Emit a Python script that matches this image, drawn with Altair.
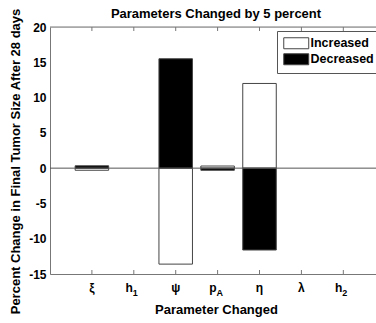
import altair as alt
import pandas as pd

# ---- data ----
params_main = ["ξ", "h", "ψ", "p", "η", "λ", "h"]
params_sub = ["", "1", "", "A", "", "", "2"]
positions = [1, 2, 3, 4, 5, 6, 7]
increased = [-0.30, 0.0, -13.6, 0.30, 12.0, 0.0, 0.0]
decreased = [0.33, 0.0, 15.5, -0.30, -11.6, 0.0, 0.0]
series = ["Increased", "Decreased"]
y_ticks = [-15, -10, -5, 0, 5, 10, 15, 20]
title_text = "Parameters Changed by 5 percent"

rows = []
for m, s, pos, inc, dec in zip(params_main, params_sub, positions, increased, decreased):
    rows.append(dict(param=m + s, pos=pos, series="Increased", value=inc))
    rows.append(dict(param=m + s, pos=pos, series="Decreased", value=dec))
bars_df = pd.DataFrame(rows)
labels_df = pd.DataFrame(dict(main=params_main, sub=params_sub, pos=positions))
one_df = pd.DataFrame({"t": [title_text]})

W, H = 326, 247
FONT = "Liberation Sans"
AX = "#777777"

xscale = alt.Scale(domain=[0, 7.78], nice=False, zero=False)
yscale = alt.Scale(domain=[-15, 20], nice=False, zero=False)

x_axis = alt.Axis(
    title="Parameter Changed", labels=False, ticks=False, grid=False,
    domainColor=AX, titleX=166, titleY=39, titleBaseline="alphabetic",
    titleAlign="center", titleFont=FONT, titleFontSize=13, titleFontWeight="bold",
    titleColor="black")
y_axis = alt.Axis(
    values=y_ticks, title="Percent Change in Final Tumor Size After 28 days",
    labelExpr="'' + datum.value", labelOverlap=False,
    ticks=False, grid=False, domainColor=AX, labelFont=FONT, labelFontSize=12,
    labelFontWeight="bold", labelColor="black", labelPadding=4,
    titleX=-31, titleY=134, titleAlign="center", titleBaseline="alphabetic",
    titleFont=FONT, titleFontSize=13, titleFontWeight="bold", titleColor="black")

bars = alt.Chart(bars_df).transform_filter("datum.value != 0").transform_calculate(
    x0="datum.pos - 0.4", x1="datum.pos + 0.4"
).mark_rect(stroke="#444444", strokeWidth=1).encode(
    x=alt.X("x0:Q", scale=xscale, axis=x_axis),
    x2="x1:Q",
    y=alt.Y("value:Q", scale=yscale, axis=y_axis),
    y2=alt.datum(0),
    fill=alt.Fill("series:N", scale=alt.Scale(domain=series, range=["white", "black"]),
                  legend=alt.Legend(
                      orient="none", legendX=227, legendY=4, title=None,
                      labelFont=FONT, labelFontSize=12.5, labelFontWeight="bold",
                      labelColor="black", strokeColor="#555555", fillColor="white",
                      padding=6, symbolType="M-2.27,-1H2.27V1H-2.27Z", symbolSize=121,
                      symbolOffset=7,
                      symbolStrokeColor="#444444", symbolStrokeWidth=1,
                      rowPadding=0, labelOffset=8)),
)

zero_line = alt.Chart(one_df).mark_rule(color="#555555", strokeWidth=1).encode(
    y=alt.Y(datum=0, scale=yscale, axis=y_axis), x=alt.value(0), x2=alt.value(W))

top_line = alt.Chart(one_df).mark_rule(color=AX, strokeWidth=1).encode(
    y=alt.value(0), x=alt.value(0), x2=alt.value(W))

top_ticks = alt.Chart(labels_df).mark_rule(color=AX).encode(
    x=alt.X("pos:Q", scale=xscale, axis=x_axis), y=alt.value(0), y2=alt.value(4))
bottom_ticks = alt.Chart(labels_df).mark_rule(color=AX).encode(
    x=alt.X("pos:Q", scale=xscale, axis=x_axis), y=alt.value(H), y2=alt.value(H - 4))

plain_labels = alt.Chart(labels_df).transform_filter("datum.sub == ''").mark_text(
    font=FONT, fontSize=12, fontWeight="bold", align="center", baseline="middle",
    color="black").encode(x=alt.X("pos:Q", scale=xscale, axis=x_axis),
                          y=alt.value(H + 14), text="main:N")
sub_main_labels = alt.Chart(labels_df).transform_filter("datum.sub != ''").mark_text(
    font=FONT, fontSize=12, fontWeight="bold", align="right", baseline="middle", dx=-1,
    color="black").encode(x=alt.X("pos:Q", scale=xscale, axis=x_axis),
                          y=alt.value(H + 14), text="main:N")
sub_labels = alt.Chart(labels_df).transform_filter("datum.sub != ''").mark_text(
    font=FONT, fontSize=9, fontWeight="bold", align="left", baseline="middle", dx=-1,
    color="black").encode(x=alt.X("pos:Q", scale=xscale, axis=x_axis),
                          y=alt.value(H + 19), text="sub:N")

title = alt.Chart(one_df).mark_text(
    font=FONT, fontSize=13, fontWeight="bold", align="center", baseline="alphabetic",
    color="black").encode(x=alt.value(W / 2 + 3), y=alt.value(-9), text="t:N")

chart = alt.layer(
    bars, zero_line, top_line, top_ticks, bottom_ticks,
    plain_labels, sub_main_labels, sub_labels, title
).properties(
    width=W, height=H,
    autosize=alt.AutoSizeParams(type="none"),
    padding={"left": 50, "top": 27, "right": 0, "bottom": 49},
).configure_view(stroke=None).configure_axis(labelOverlap=False).configure(background="white")

chart.save("out.html", embed_options={"renderer": "svg", "actions": False})
